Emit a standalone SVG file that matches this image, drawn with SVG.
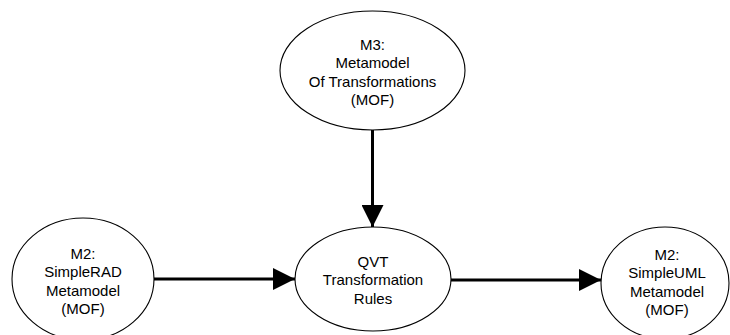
<svg xmlns="http://www.w3.org/2000/svg" width="730" height="335" viewBox="0 0 730 335">
  <style>
    .node ellipse { fill: #ffffff; stroke: #000000; stroke-width: 1.1; }
    .node text { font-family: "Liberation Sans", Arial, sans-serif; font-size: 15px; fill: #000000; text-anchor: middle; }
    .edge { stroke: #000000; stroke-width: 3; fill: none; marker-end: url(#arrow); }
  </style>
  <defs>
    <marker id="arrow" markerUnits="userSpaceOnUse" markerWidth="22" markerHeight="22" viewBox="0 0 22 22" refX="22" refY="11" orient="auto">
      <path d="M0,0 L22,11 L0,22 Z" fill="#000000"/>
    </marker>
  </defs>
  <rect width="730" height="335" fill="#ffffff"/>
  <g id="connectors">
    <line class="edge" x1="372.5" y1="130" x2="372.5" y2="227"/>
    <line class="edge" x1="154" y1="279" x2="295" y2="279"/>
    <line class="edge" x1="451" y1="280" x2="601" y2="280"/>
  </g>
  <g id="m3" class="node">
    <ellipse cx="372.5" cy="70.5" rx="92.5" ry="59.5"/>
    <text x="372.5" y="50">M3:</text>
    <text x="372.5" y="68.3">Metamodel</text>
    <text x="372.5" y="86.7">Of Transformations</text>
    <text x="372.5" y="105">(MOF)</text>
  </g>
  <g id="simplerad" class="node">
    <ellipse cx="83" cy="279" rx="71" ry="61"/>
    <text x="83" y="259">M2:</text>
    <text x="83" y="277.3">SimpleRAD</text>
    <text x="83" y="295.7">Metamodel</text>
    <text x="83" y="314">(MOF)</text>
  </g>
  <g id="qvt" class="node">
    <ellipse cx="373" cy="279" rx="78" ry="52"/>
    <text x="373" y="266.5">QVT</text>
    <text x="373" y="285">Transformation</text>
    <text x="373" y="303.5">Rules</text>
  </g>
  <g id="simpleuml" class="node">
    <ellipse cx="665" cy="283" rx="64" ry="56"/>
    <text x="667" y="260">M2:</text>
    <text x="667" y="278.3">SimpleUML</text>
    <text x="667" y="296.7">Metamodel</text>
    <text x="667" y="315">(MOF)</text>
  </g>
</svg>
